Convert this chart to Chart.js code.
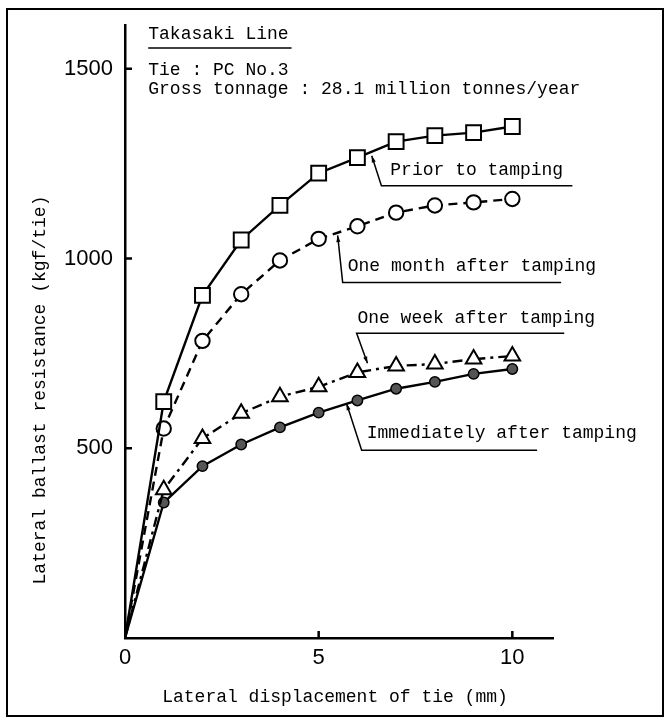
<!DOCTYPE html>
<html>
<head>
<meta charset="utf-8">
<script src="https://cdn.jsdelivr.net/npm/chart.js@4.4.0/dist/chart.umd.min.js"></script>
<style>
  html, body { margin: 0; background: #fff; }
  #wrap { width: 670px; height: 721px; position: relative; }
</style>
</head>
<body>
<div id="wrap"><canvas id="c"></canvas></div>
<script>
// values (kgf/tie vs mm)
const displacement = [0, 1, 2, 3, 4, 5, 6, 7, 8, 9, 10];
const priorToTamping = [0, 623, 903, 1049, 1140, 1225, 1266, 1308, 1324, 1332, 1348];
const oneMonthAfter = [0, 552, 783, 906, 995, 1052, 1085, 1121, 1140, 1148, 1157];
const oneWeekAfter = [0, 391, 526, 592, 636, 662, 700, 717, 722, 735, 743];
const immediatelyAfter = [0, 357, 453, 510, 555, 594, 626, 657, 675, 696, 709];
const xTicks = [0, 5, 10];
const yTicks = [500, 1000, 1500];

const mono = '"Liberation Mono", "DejaVu Sans Mono", monospace';
const sans = '"Liberation Sans", Arial, sans-serif';

function pts(ys) {
    return displacement.map((x, i) => ({ x: x, y: ys[i] }));
}

// labels with leader lines, in data units
const notes = [
    { text: 'Prior to tamping', tip: [6.37, 1271], elbow: [6.62, 1192], end: 11.55, tx: 6.85, ty: 1232 },
    { text: 'One month after tamping', tip: [5.49, 1061], elbow: [5.62, 937], end: 11.26, tx: 5.75, ty: 979 },
    { text: 'One week after tamping', tip: [6.26, 724], elbow: [5.98, 803], end: 11.34, tx: 6.0, ty: 842 },
    { text: 'Immediately after tamping', tip: [5.72, 618], elbow: [6.11, 495], end: 10.64, tx: 6.24, ty: 539 }
];

const extras = {
    id: 'extras',
    afterDraw(chart) {
        const ctx = chart.ctx;
        const sx = chart.scales.x, sy = chart.scales.y;
        const X = v => sx.getPixelForValue(v), Y = v => sy.getPixelForValue(v);
        ctx.save();
        ctx.strokeStyle = '#000';
        ctx.fillStyle = '#000';

        // frame
        ctx.lineWidth = 2;
        ctx.strokeRect(7, 9, 656, 707);

        // inward tick marks
        ctx.lineWidth = 2.5;
        ctx.beginPath();
        yTicks.forEach(v => { ctx.moveTo(sx.left, Y(v)); ctx.lineTo(sx.left + 7, Y(v)); });
        xTicks.slice(1).forEach(v => { ctx.moveTo(X(v), sy.bottom); ctx.lineTo(X(v), sy.bottom - 7); });
        ctx.stroke();

        // header text
        ctx.font = '18px ' + mono;
        ctx.textBaseline = 'middle';
        ctx.textAlign = 'left';
        ctx.fillText('Takasaki Line', X(0.6), Y(1592));
        ctx.fillText('Tie : PC No.3', X(0.6), Y(1495));
        ctx.fillText('Gross tonnage : 28.1 million tonnes/year', X(0.6), Y(1447));
        ctx.lineWidth = 1.5;
        ctx.beginPath();
        ctx.moveTo(X(0.6), Y(1555));
        ctx.lineTo(X(4.3), Y(1555));
        ctx.stroke();

        // curve labels
        notes.forEach(n => {
            ctx.lineWidth = 1.5;
            ctx.beginPath();
            ctx.moveTo(X(n.tip[0]), Y(n.tip[1]));
            ctx.lineTo(X(n.elbow[0]), Y(n.elbow[1]));
            ctx.lineTo(X(n.end), Y(n.elbow[1]));
            ctx.stroke();
            // small arrow head at the tip
            const ax = X(n.tip[0]), ay = Y(n.tip[1]);
            const ang = Math.atan2(ay - Y(n.elbow[1]), ax - X(n.elbow[0]));
            ctx.beginPath();
            ctx.moveTo(ax, ay);
            ctx.lineTo(ax - 7 * Math.cos(ang - 0.3), ay - 7 * Math.sin(ang - 0.3));
            ctx.lineTo(ax - 7 * Math.cos(ang + 0.3), ay - 7 * Math.sin(ang + 0.3));
            ctx.closePath();
            ctx.fill();
            ctx.fillText(n.text, X(n.tx), Y(n.ty));
        });

        // axis titles
        ctx.textAlign = 'center';
        ctx.fillText('Lateral displacement of tie (mm)', 335, 697);
        ctx.translate(40, 390);
        ctx.rotate(-Math.PI / 2);
        ctx.fillText('Lateral ballast resistance (kgf/tie)', 0, 0);
        ctx.restore();
    }
};

const lineBase = {
    showLine: true,
    borderColor: '#000',
    borderWidth: 2.4,
    pointBorderColor: '#000',
    pointBorderWidth: 2,
    pointBackgroundColor: '#fff',
    tension: 0
};

new Chart(document.getElementById('c'), {
    type: 'scatter',
    data: {
        datasets: [
            Object.assign({}, lineBase, {
                label: 'Prior to tamping', data: pts(priorToTamping),
                pointStyle: 'rect', pointRadius: displacement.map(x => x === 0 ? 0 : 10.5)
            }),
            Object.assign({}, lineBase, {
                label: 'One month after tamping', data: pts(oneMonthAfter), borderDash: [9, 6],
                pointStyle: 'circle', pointRadius: displacement.map(x => x === 0 ? 0 : 7.2)
            }),
            Object.assign({}, lineBase, {
                label: 'One week after tamping', data: pts(oneWeekAfter), borderDash: [10, 5, 3, 5],
                pointStyle: 'triangle', pointRadius: displacement.map(x => x === 0 ? 0 : 9)
            }),
            Object.assign({}, lineBase, {
                label: 'Immediately after tamping', data: pts(immediatelyAfter),
                pointStyle: 'circle', pointBackgroundColor: '#555', pointBorderWidth: 1.5,
                pointRadius: displacement.map(x => x === 0 ? 0 : 5.2)
            })
        ]
    },
    options: {
        responsive: true,
        maintainAspectRatio: false,
        animation: false,
        layout: { padding: { left: 0, top: 25, right: 117, bottom: 0 } },
        plugins: { legend: { display: false }, tooltip: { enabled: false } },
        scales: {
            x: {
                type: 'linear', min: 0, max: 11.05,
                afterFit: s => { s.height = 83; },
                afterBuildTicks: s => { s.ticks = xTicks.map(v => ({ value: v })); },
                grid: { display: false, drawTicks: false },
                border: { display: true, color: '#000', width: 2.5 },
                ticks: { padding: 7, color: '#000', font: { family: sans, size: 22 }, callback: v => String(v) }
            },
            y: {
                type: 'linear', min: 0, max: 1615,
                afterFit: s => { s.width = 125; },
                afterBuildTicks: s => { s.ticks = yTicks.map(v => ({ value: v })); },
                grid: { display: false, drawTicks: false },
                border: { display: true, color: '#000', width: 2.5 },
                ticks: { padding: 12, color: '#000', font: { family: sans, size: 22 }, callback: v => String(v) }
            }
        }
    },
    plugins: [extras]
});
</script>
</body>
</html>
